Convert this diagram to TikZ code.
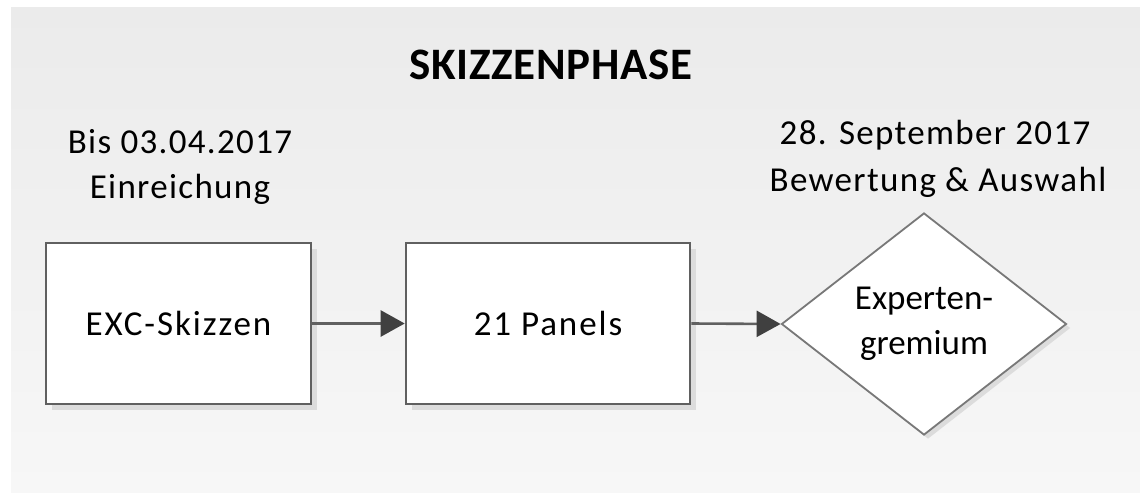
\documentclass[tikz,border=0pt]{standalone}
\usepackage{fontspec}
\setmainfont{Carlito}
\usetikzlibrary{shapes.geometric,shadows,arrows.meta}
\definecolor{bgtop}{HTML}{EBEBEB}
\definecolor{bgbot}{HTML}{F7F7F7}
\definecolor{edge}{HTML}{606060}
\definecolor{arrowc}{HTML}{404040}
\definecolor{shadowc}{HTML}{DCDCDC}
\newfontfamily\boxfont[LetterSpace=5.5]{Carlito}
\newfontfamily\labelfont[LetterSpace=3.8]{Carlito}
\newfontfamily\titlefont[LetterSpace=1.5]{Carlito}
\tikzset{
  procbox/.style={draw=edge, line width=2.6pt, fill=white, rectangle,
    minimum height=161pt, inner sep=0pt,
    font=\boxfont\fontsize{35}{45}\selectfont,
    drop shadow={shadow xshift=6pt, shadow yshift=-6pt, fill=shadowc, opacity=1}},
  decisionbox/.style={draw=edge!85, line width=1.8pt, fill=white, diamond,
    minimum width=285pt, minimum height=222pt, inner sep=0pt, align=center,
    font=\fontsize{35}{45}\selectfont,
    drop shadow={shadow xshift=4pt, shadow yshift=-4pt, fill=shadowc, opacity=1}},
  labeltext/.style={anchor=base, inner sep=0pt, font=\labelfont\fontsize{35}{45}\selectfont},
  flow/.style={draw=edge, line width=2.6pt, -{Triangle[length=24pt,width=26pt,color=arrowc]}, shorten >=0pt}
}
\begin{document}
\begin{tikzpicture}[x=1pt,y=-1pt]
\useasboundingbox (0,0) rectangle (1140,493);
\shade[top color=bgtop,bottom color=bgbot] (11,7) rectangle (1140,492);
\node[anchor=base, inner sep=0pt, font=\titlefont\fontsize{45}{54}\selectfont\bfseries] (title) at (551,79) {SKIZZENPHASE};
\node[labeltext] (l1a) at (180,153) {Bis 03.04.2017};
\node[labeltext] (l1b) at (180,198) {Einreichung};
\node[labeltext] (l2a) at (935,144) {28. September 2017};
\node[labeltext] (l2b) at (938,191) {Bewertung \& Auswahl};
\node[procbox, minimum width=265pt] (b1) at (178.5,323.5) {EXC-Skizzen};
\node[procbox, minimum width=284pt] (b2) at (548,323.5) {21 Panels};
\node[decisionbox] (d) at (924,324) {Experten-\\gremium};
\draw[flow] (b1.east) -- (b2.west);
\draw[flow] (b2.east) -- (d.west);
\end{tikzpicture}
\end{document}
